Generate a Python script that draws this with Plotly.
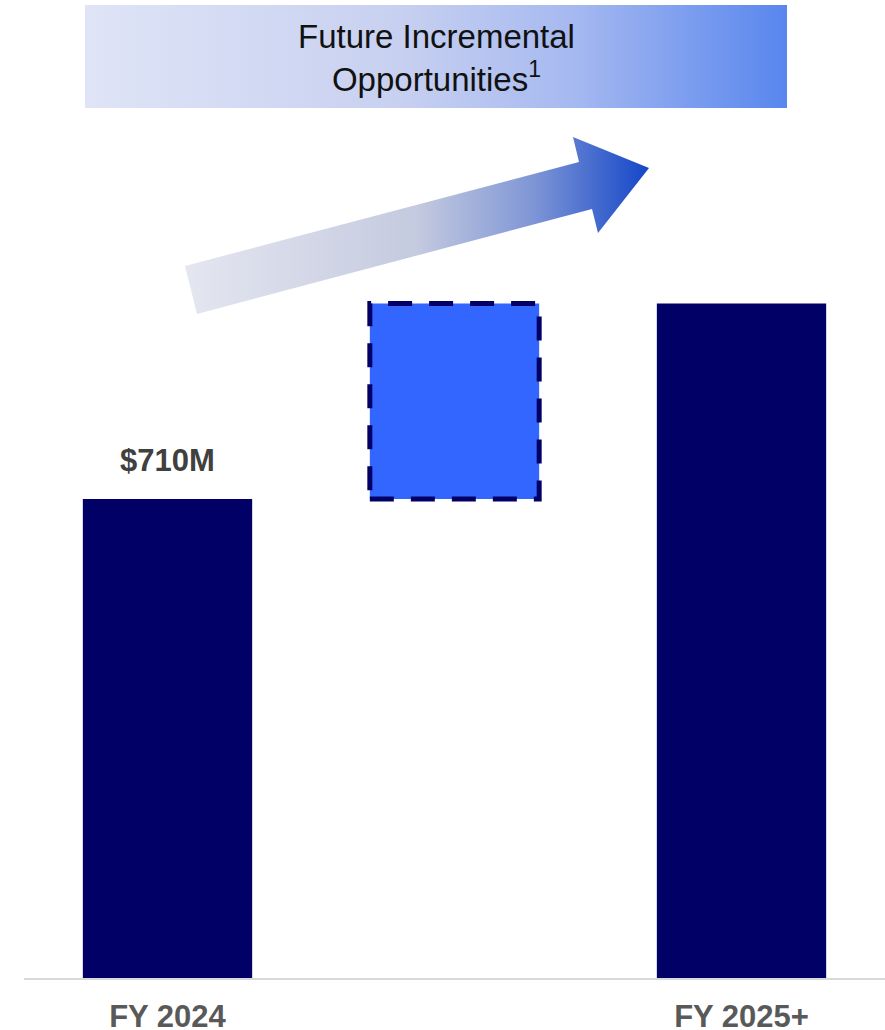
import plotly.graph_objects as go

# ---- data ----
categories = ["FY 2024", "Future Incremental Opportunities", "FY 2025+"]
x_pos = [0, 1, 2]
bar_values = [710, 290, 1000]
bar_bases = [0, 710, 0]
tick_labels = ["FY 2024", "FY 2025+"]
tick_positions = [0, 2]
value_label = "$710M"

NAVY = "#000066"
BLUE = "#3366FF"
FONT = "Liberation Sans, Arial, sans-serif"
BAR_W = 0.59

fig = go.Figure()

fig.add_trace(go.Bar(
    x=x_pos, y=bar_values, base=bar_bases, width=BAR_W,
    marker=dict(color=[NAVY, BLUE, NAVY], line=dict(width=0)),
    hoverinfo="skip", showlegend=False,
))

# dashed outline around the incremental bar (from its data)
fig.add_shape(type="rect", xref="x", yref="y",
              x0=x_pos[1] - BAR_W / 2, x1=x_pos[1] + BAR_W / 2,
              y0=bar_bases[1], y1=bar_bases[1] + bar_values[1],
              line=dict(color=NAVY, width=5, dash="24px,17px"),
              fillcolor="rgba(0,0,0,0)", layer="above")

# value label above FY 2024
fig.add_annotation(x=x_pos[0], y=bar_values[0], xref="x", yref="y",
                   text="<b>" + value_label + "</b>", showarrow=False,
                   yanchor="bottom", yshift=19,
                   font=dict(family=FONT, size=31, color="#404040"))

# ---- decoration on a pixel-like overlay axis (plot area: x 24..885, y 0..978) ----
hdr_x = [85, 787, 787, 85, 85]
hdr_y = [5, 5, 108, 108, 5]
fig.add_trace(go.Scatter(
    x=hdr_x, y=hdr_y, xaxis="x2", yaxis="y2", mode="lines",
    fill="toself", line=dict(width=0, color="rgba(0,0,0,0)"),
    fillgradient=dict(type="horizontal",
                      colorscale=[[0, "#dfe4f6"], [0.45, "#c7d0f0"], [0.7, "#a5b8f0"], [1, "#5886ee"]]),
    hoverinfo="skip", showlegend=False,
))

arr_x = [185, 579, 573, 649, 598, 592, 197, 185]
arr_y = [266, 162, 137, 168, 233, 209, 314, 266]
fig.add_trace(go.Scatter(
    x=arr_x, y=arr_y, xaxis="x2", yaxis="y2", mode="lines",
    fill="toself", line=dict(width=0, color="rgba(0,0,0,0)"),
    fillgradient=dict(type="horizontal",
                      colorscale=[[0, "#e4e6f0"], [0.5, "#c4cadf"], [0.75, "#7f96d6"], [1, "#1446c8"]]),
    hoverinfo="skip", showlegend=False,
))

fig.add_annotation(x=436, y=58, xref="x2", yref="y2",
                   text="Future Incremental<br>Opportunities<sup>1</sup>",
                   showarrow=False, yanchor="middle",
                   font=dict(family=FONT, size=33, color="#111111"))

fig.update_layout(
    width=885, height=1030,
    margin=dict(l=24, r=0, t=0, b=52, autoexpand=False),
    paper_bgcolor="white", plot_bgcolor="white",
    font=dict(family=FONT),
    bargap=0.41,
    xaxis=dict(range=[-0.5, 2.5], tickvals=tick_positions,
               ticktext=["<b>" + t + "</b>" for t in tick_labels],
               tickfont=dict(family=FONT, size=31, color="#595959"),
               showline=True, linecolor="#d9d9d9", linewidth=2,
               showgrid=False, zeroline=False, ticks="", ticklabelstandoff=10,
               automargin=False, fixedrange=True),
    yaxis=dict(range=[0, 1450], visible=False, showgrid=False, zeroline=False,
               automargin=False, fixedrange=True),
    xaxis2=dict(range=[24, 885], overlaying="x", visible=False, automargin=False, fixedrange=True),
    yaxis2=dict(range=[978, 0], overlaying="y", visible=False, automargin=False, fixedrange=True),
)

fig.write_html("out.html", config={"displayModeBar": False},
               post_script="document.body.style.margin='0px';document.body.style.overflow='hidden';")
